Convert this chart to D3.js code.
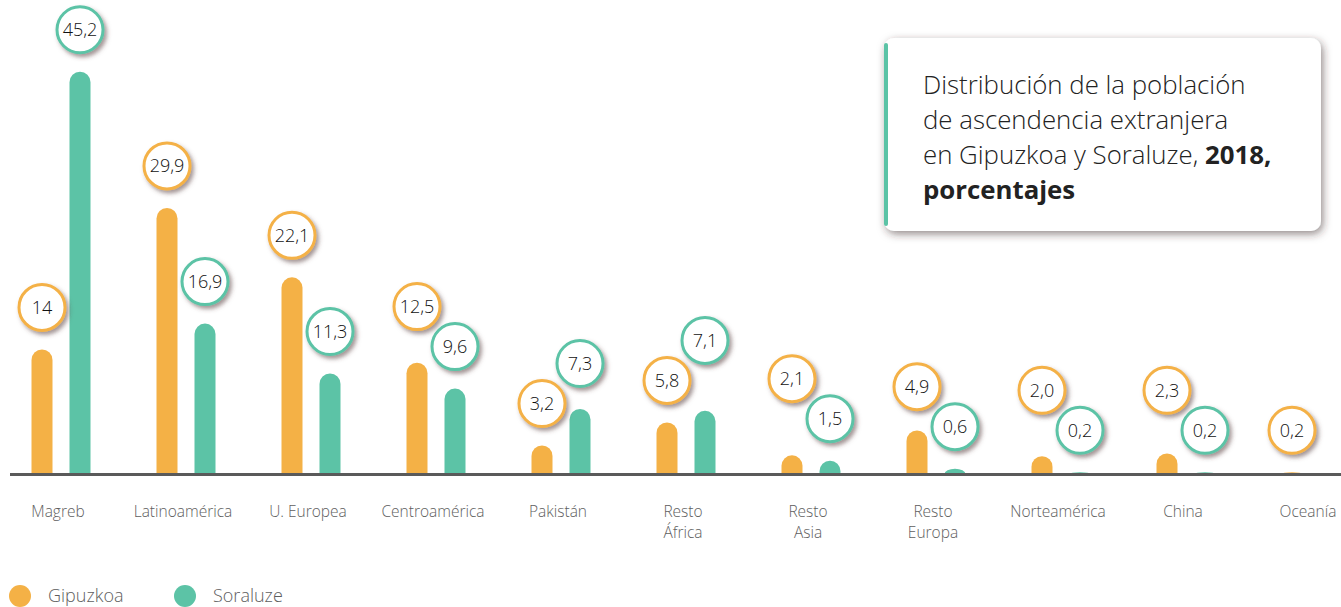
<!DOCTYPE html>
<html>
<head>
<meta charset="utf-8">
<script src="https://cdn.jsdelivr.net/npm/d3@7"></script>
<style>
  html, body { margin: 0; padding: 0; background: #fff; }
  svg { display: block; font-family: "Open Sans", sans-serif; }
</style>
</head>
<body>
<div id="chart"></div>
<script>
// categories (two-line labels split by \n)
const categories = ['Magreb', 'Latinoamérica', 'U. Europea', 'Centroamérica', 'Pakistán',
  'Resto\nÁfrica', 'Resto\nAsia', 'Resto\nEuropa', 'Norteamérica', 'China', 'Oceanía'];
const gipuzkoa = [14, 29.9, 22.1, 12.5, 3.2, 5.8, 2.1, 4.9, 2.0, 2.3, 0.2];
const soraluze = [45.2, 16.9, 11.3, 9.6, 7.3, 7.1, 1.5, 0.6, 0.2, 0.2, null];
const gipuzkoaLabels = ['14', '29,9', '22,1', '12,5', '3,2', '5,8', '2,1', '4,9', '2,0', '2,3', '0,2'];
const soraluzeLabels = ['45,2', '16,9', '11,3', '9,6', '7,3', '7,1', '1,5', '0,6', '0,2', '0,2', null];
const seriesNames = ['Gipuzkoa', 'Soraluze'];
const colors = ['#f4b146', '#5cc3a6'];

const width = 1341, height = 607;
const baseY = 474;

const svg = d3.select('#chart').append('svg')
    .attr('width', width)
    .attr('height', height);

const defs = svg.append('defs');
const bubbleShadow = defs.append('filter')
    .attr('id', 'bubble-shadow')
    .attr('x', '-40%').attr('y', '-40%')
    .attr('width', '180%').attr('height', '180%');
bubbleShadow.append('feDropShadow')
    .attr('dx', 2.5).attr('dy', 3)
    .attr('stdDeviation', 2.2)
    .attr('flood-color', '#5a3c3c')
    .attr('flood-opacity', 0.55);

const boxShadow = defs.append('filter')
    .attr('id', 'box-shadow')
    .attr('x', '-10%').attr('y', '-15%')
    .attr('width', '120%').attr('height', '130%');
boxShadow.append('feDropShadow')
    .attr('dx', 2).attr('dy', 3)
    .attr('stdDeviation', 4.5)
    .attr('flood-color', '#3a2a2a')
    .attr('flood-opacity', 0.55);

const x = d3.scalePoint()
    .domain(categories)
    .range([61, 1311]);

const y = d3.scaleLinear()
    .domain([0, 50])
    .range([baseY, 29]);

const barW = 21;
const offset = [-19, 19];

const rows = categories.map((c, i) => ({
    cat: c,
    vals: [gipuzkoa[i], soraluze[i]],
    labels: [gipuzkoaLabels[i], soraluzeLabels[i]]
}));

// bar with rounded top
function barPath(cx, v) {
    const top = y(v);
    const r = barW / 2;
    const h = baseY - top;
    if (h <= 0) return '';
    if (h <= r) {
        return `M${cx - r},${baseY} A${r},${h} 0 0 1 ${cx + r},${baseY} Z`;
    }
    return `M${cx - r},${baseY} L${cx - r},${top + r} A${r},${r} 0 0 1 ${cx + r},${top + r} L${cx + r},${baseY} Z`;
}

const groups = svg.append('g').selectAll('g.group')
    .data(rows)
    .join('g')
    .attr('class', 'group');

groups.each(function(d) {
    const g = d3.select(this);
    const cx = x(d.cat);
    d.vals.forEach((v, s) => {
        if (v == null) return;
        g.append('path')
            .attr('d', barPath(cx + offset[s], v))
            .attr('fill', colors[s]);
    });
});

// axis line
svg.append('line')
    .attr('x1', 10).attr('x2', width)
    .attr('y1', baseY + 0.5).attr('y2', baseY + 0.5)
    .attr('stroke', '#5a5a5a')
    .attr('stroke-width', 3);

// category labels
const labels = svg.append('g').selectAll('text')
    .data(categories)
    .join('text')
    .attr('x', d => x(d) - 3)
    .attr('y', 517)
    .attr('text-anchor', 'middle')
    .attr('font-size', 15.5)
    .attr('font-weight', 300)
    .attr('fill', '#5e5e5e');
labels.each(function(d) {
    d.split('\n').forEach((line, i) => {
        d3.select(this).append('tspan')
            .attr('x', x(d) - 3)
            .attr('dy', i === 0 ? 0 : 21)
            .text(line);
    });
});

// value bubbles
const R = 23, gap = 40;
const bubbles = [];
rows.forEach(d => {
    const cx = x(d.cat);
    const pos = d.vals.map((v, s) => v == null ? null :
        { x: cx + offset[s], y: Math.min(y(v) - 42, baseY - 38), s, v, label: d.labels[s] });
    const [a, b] = pos;
    if (a && b && Math.abs(a.y - b.y) < gap) {
        if (a.v >= b.v) a.y = b.y - gap; else b.y = a.y - gap;
    }
    pos.forEach(p => { if (p) bubbles.push(p); });
});

const bub = svg.append('g').selectAll('g.bubble')
    .data(bubbles)
    .join('g')
    .attr('class', 'bubble')
    .attr('transform', d => `translate(${d.x},${d.y})`);

bub.append('circle')
    .attr('r', R)
    .attr('fill', '#fff')
    .attr('stroke', d => colors[d.s])
    .attr('stroke-width', 3)
    .attr('filter', 'url(#bubble-shadow)');

bub.append('text')
    .attr('text-anchor', 'middle')
    .attr('dy', '0.36em')
    .attr('font-size', 18)
    .attr('font-weight', 300)
    .attr('fill', '#111')
    .text(d => d.label);

// title box
const box = svg.append('g').attr('transform', 'translate(884,38)');
box.append('rect')
    .attr('width', 437).attr('height', 193)
    .attr('rx', 10)
    .attr('fill', '#fff')
    .attr('filter', 'url(#box-shadow)');
box.append('rect')
    .attr('x', 0).attr('y', 5)
    .attr('width', 4).attr('height', 183)
    .attr('rx', 2)
    .attr('fill', colors[1]);

const titleLines = [
    [['Distribución de la población', 300]],
    [['de ascendencia extranjera', 300]],
    [['en Gipuzkoa y Soraluze, ', 300], ['2018,', 700]],
    [['porcentajes', 700]]
];
const title = box.append('text')
    .attr('font-size', 25.8)
    .attr('fill', '#222');
titleLines.forEach((parts, i) => {
    parts.forEach((p, j) => {
        const t = title.append('tspan')
            .attr('font-weight', p[1])
            .text(p[0]);
        if (j === 0) t.attr('x', 39).attr('y', 56 + i * 35);
    });
});

// legend
const legend = svg.append('g').selectAll('g')
    .data(seriesNames)
    .join('g')
    .attr('transform', (d, i) => `translate(${20 + i * 165},596)`);
legend.append('circle')
    .attr('r', 11)
    .attr('fill', (d, i) => colors[i]);
legend.append('text')
    .attr('x', 28)
    .attr('y', 6)
    .attr('font-size', 18)
    .attr('font-weight', 300)
    .attr('fill', '#5e5e5e')
    .text(d => d);
</script>
</body>
</html>
